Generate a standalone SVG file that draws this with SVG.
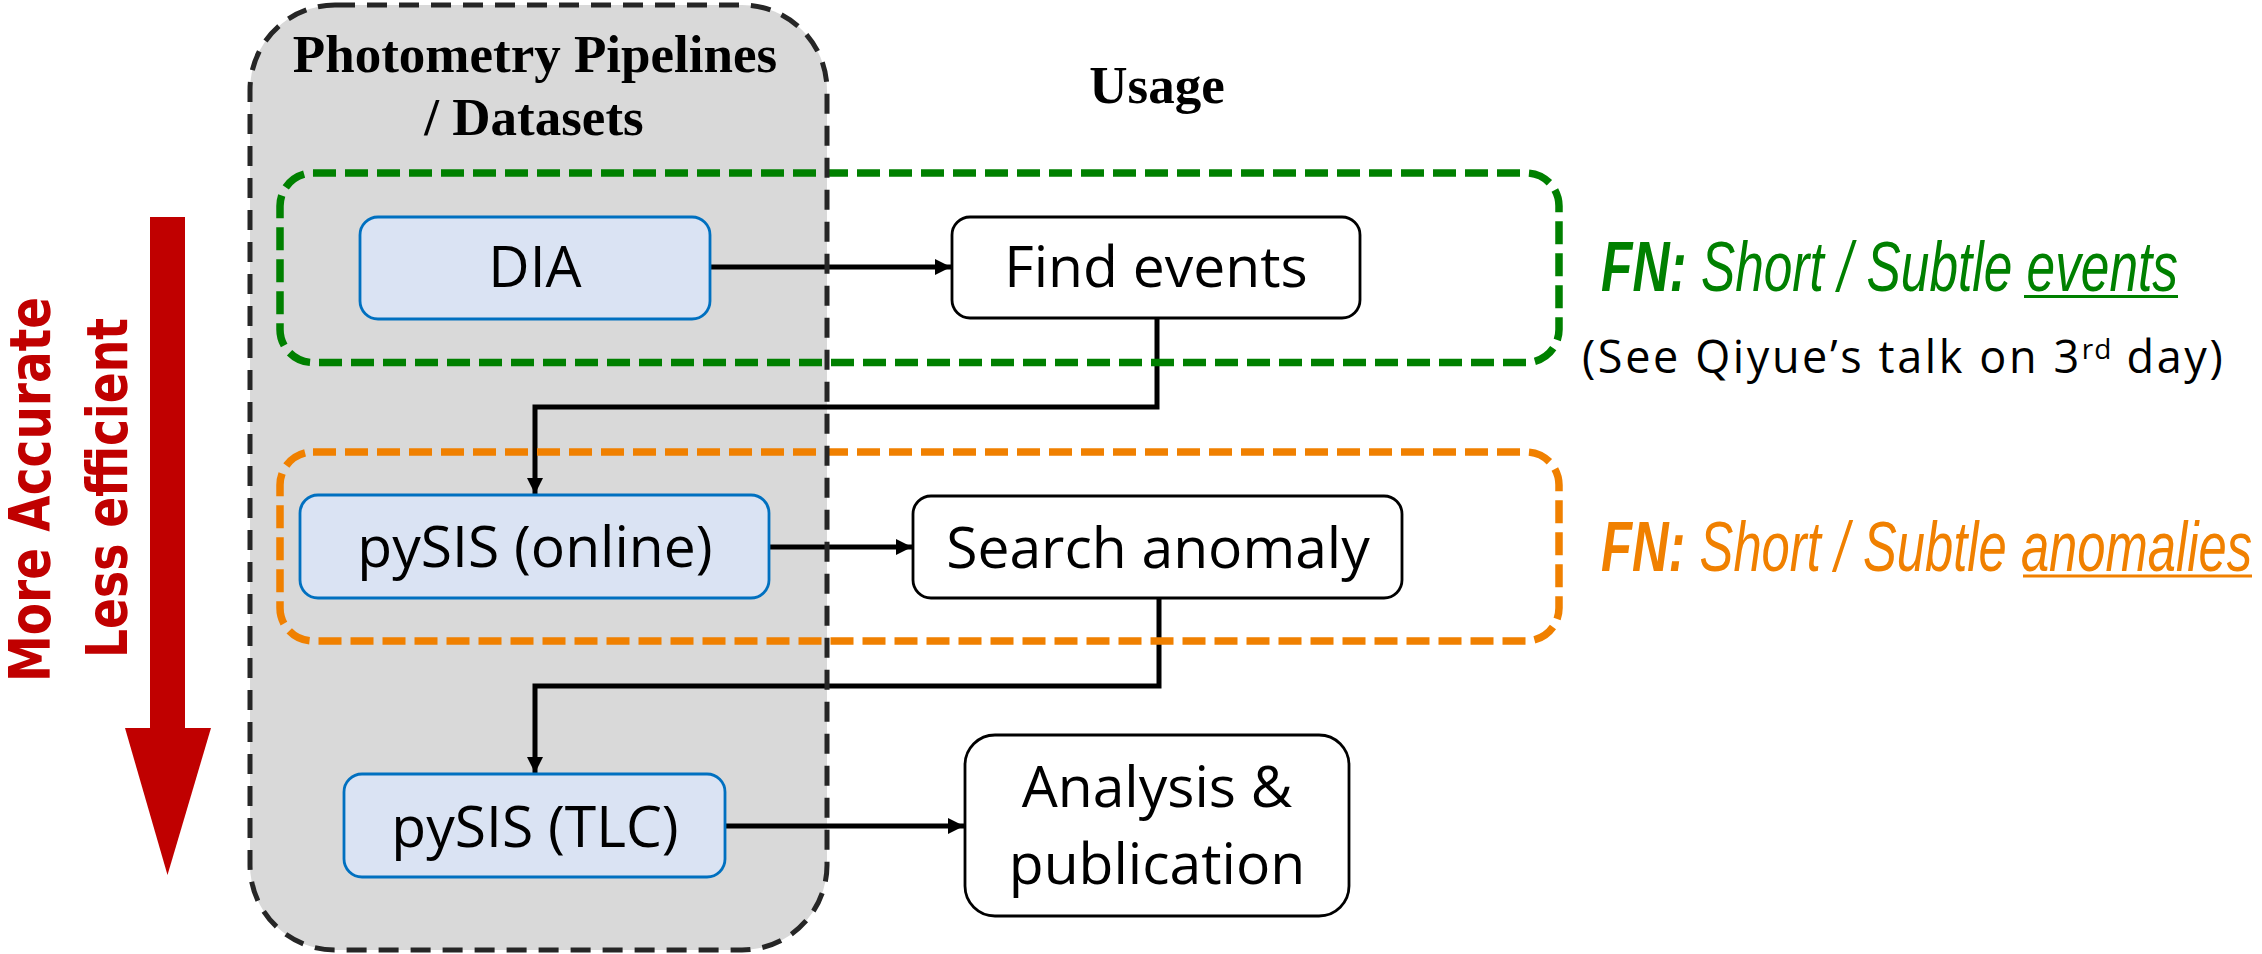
<svg xmlns="http://www.w3.org/2000/svg" width="2262" height="954" viewBox="0 0 2262 954">
<defs>
<style>
.title{font-family:"Liberation Serif","Times New Roman",serif;font-weight:bold;font-size:53px;fill:#000;text-anchor:middle}
.pipe rect{fill:#dae3f3;stroke:#0070c0;stroke-width:2.8}
.use rect{fill:#fff;stroke:#000;stroke-width:2.8}
.lbl{font-family:"Open Sans","Noto Sans",sans-serif;font-size:57px;fill:#000;text-anchor:middle}
.conn{fill:none;stroke:#000;stroke-width:5;stroke-linejoin:miter}
.fn{font-family:"Liberation Sans",Arial,sans-serif;font-size:52px;font-style:italic}
.vert{font-family:"DejaVu Sans","Verdana",sans-serif;font-weight:bold;font-size:57px;fill:#c00000;text-anchor:middle}
.grp{fill:none;stroke-width:7.5;stroke-dasharray:23 9}
</style>
<marker id="arr" markerUnits="userSpaceOnUse" markerWidth="16" markerHeight="16" refX="16" refY="8" orient="auto">
<path d="M0,0 L16,8 L0,16 Z" fill="#000"/>
</marker>
</defs>
<rect width="2262" height="954" fill="#fff"/>

<g id="pipelines-panel-fill">
<rect x="250" y="5" width="577" height="945" rx="85" ry="85" fill="#d9d9d9"/>
</g>

<g id="connectors">
<path class="conn" d="M710,267 H951" marker-end="url(#arr)"/>
<path class="conn" d="M1157,318 V407 H535 V494" marker-end="url(#arr)"/>
<path class="conn" d="M769,547 H912" marker-end="url(#arr)"/>
<path class="conn" d="M1159,598 V686 H535 V773" marker-end="url(#arr)"/>
<path class="conn" d="M725,826 H964" marker-end="url(#arr)"/>
</g>

<g id="green-group">
<rect class="grp" x="280" y="173" width="1279" height="189.5" rx="33" stroke="#008000"/>
</g>
<g id="orange-group">
<rect class="grp" x="280" y="452" width="1279" height="189" rx="33" stroke="#f08000"/>
</g>

<g id="pipelines-panel-border">
<rect x="250" y="5" width="577" height="945" rx="85" ry="85" fill="none" stroke="#262626" stroke-width="5" stroke-dasharray="20 12"/>
<text class="title" x="535" y="72">Photometry Pipelines</text>
<text class="title" x="534" y="135">/ Datasets</text>
</g>

<g id="usage-title">
<text class="title" x="1157" y="103" font-size="52">Usage</text>
</g>

<g id="node-dia" class="pipe">
<rect x="360" y="217" width="350" height="102" rx="18"/>
<text class="lbl" x="535" y="287">DIA</text>
</g>
<g id="node-pysis-online" class="pipe">
<rect x="300" y="495" width="469" height="103" rx="18"/>
<text class="lbl" x="535" y="567">pySIS (online)</text>
</g>
<g id="node-pysis-tlc" class="pipe">
<rect x="344" y="774" width="381" height="103" rx="18"/>
<text class="lbl" x="535" y="847">pySIS (TLC)</text>
</g>

<g id="node-find-events" class="use">
<rect x="952" y="217" width="408" height="101" rx="18"/>
<text class="lbl" x="1156" y="287">Find events</text>
</g>
<g id="node-search-anomaly" class="use">
<rect x="913" y="496" width="489" height="102" rx="18"/>
<text class="lbl" x="1158" y="568">Search anomaly</text>
</g>
<g id="node-analysis" class="use">
<rect x="965" y="735" width="384" height="181" rx="30"/>
<text class="lbl" x="1157" y="807">Analysis &amp;</text>
<text class="lbl" x="1157" y="884">publication</text>
</g>

<g id="fn-events" fill="#008000">
<text class="fn" transform="translate(1601,291) scale(1,1.37)" x="0" y="0" textLength="577" lengthAdjust="spacingAndGlyphs"><tspan font-weight="bold">FN:</tspan> Short / Subtle events</text>
<line x1="2024" y1="296.5" x2="2178" y2="296.5" stroke="#008000" stroke-width="3"/>
</g>
<g id="note-qiyue">
<text x="1582" y="373" font-family="'Open Sans','Noto Sans',sans-serif" font-size="45" letter-spacing="2.6" fill="#000">(See Qiyue’s talk on 3<tspan font-size="28" dy="-14" letter-spacing="1">rd</tspan><tspan dy="14"> day)</tspan></text>
</g>
<g id="fn-anomalies" fill="#f08000">
<text class="fn" transform="translate(1601,571) scale(1,1.37)" x="0" y="0" textLength="651" lengthAdjust="spacingAndGlyphs"><tspan font-weight="bold">FN:</tspan> Short / Subtle anomalies</text>
<line x1="2023" y1="576" x2="2252" y2="576" stroke="#f08000" stroke-width="3"/>
</g>

<g id="accuracy-arrow">
<rect x="150" y="217" width="35" height="512" fill="#c00000"/>
<polygon points="125,728 211,728 167.5,875" fill="#c00000"/>
<text class="vert" transform="translate(50,489.5) rotate(-90)" textLength="385" lengthAdjust="spacingAndGlyphs">More Accurate</text>
<text class="vert" transform="translate(127,488) rotate(-90)" textLength="340" lengthAdjust="spacingAndGlyphs">Less efficient</text>
</g>
</svg>
